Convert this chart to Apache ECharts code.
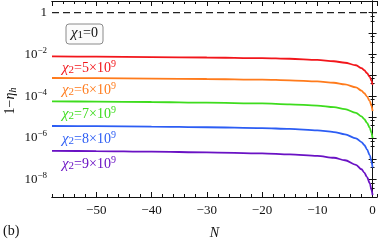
<!DOCTYPE html>
<html><head><meta charset="utf-8">
<script src="https://cdn.jsdelivr.net/npm/echarts@6/dist/echarts.min.js"></script>
<style>html,body{margin:0;padding:0;background:#fff}#c{width:379px;height:245px}</style>
</head><body><div id="c"></div>
<script>
// ---- data ----
const N = [-58, -50, -40, -30, -20, -15, -10, -7, -5, -3, -2, -1.5, -1, -0.5, -0.2, 0];
const chi5 = [7.94e-3, 7.76e-3, 7.41e-3, 7.08e-3, 6.61e-3, 6.17e-3, 5.50e-3, 4.68e-3, 3.98e-3, 3.02e-3, 2.19e-3, 1.74e-3, 1.26e-3, 8.32e-4, 5.50e-4, 3.47e-4];
const chi6 = [7.41e-4, 7.24e-4, 6.92e-4, 6.61e-4, 6.17e-4, 5.75e-4, 5.13e-4, 4.37e-4, 3.63e-4, 2.63e-4, 1.82e-4, 1.38e-4, 9.55e-5, 5.75e-5, 3.47e-5, 1.91e-5];
const chi7 = [5.62e-5, 5.50e-5, 5.25e-5, 4.90e-5, 4.47e-5, 4.07e-5, 3.55e-5, 2.95e-5, 2.40e-5, 1.58e-5, 1.07e-5, 7.94e-6, 5.25e-6, 3.02e-6, 1.74e-6, 9.77e-7];
const chi8 = [3.72e-6, 3.63e-6, 3.47e-6, 3.24e-6, 2.95e-6, 2.69e-6, 2.29e-6, 1.91e-6, 1.48e-6, 9.55e-7, 6.31e-7, 4.57e-7, 2.82e-7, 1.45e-7, 7.59e-8, 3.80e-8];
const chi9 = [2.40e-7, 2.34e-7, 2.19e-7, 2.04e-7, 1.82e-7, 1.62e-7, 1.38e-7, 1.12e-7, 8.51e-8, 5.13e-8, 3.16e-8, 2.19e-8, 1.32e-8, 6.61e-9, 3.31e-9, 1.82e-9];
const refN = [-58, 0.8];
const refY = [1, 1];
const seriesNames = ['5', '6', '7', '8', '9'];
const xRange = [-58, 0.8];
const yRange = [1.48e-9, 3.6];

const colors = ['#f2161b', '#ff7b1c', '#3edc1e', '#2c5df4', '#6a12c4'];
const font = 'Liberation Serif';
const chart = echarts.init(document.getElementById('c'), null, {renderer: 'canvas'});

const pair = (xs, ys) => xs.map((x, i) => [x, ys[i]]);
const allY = [chi5, chi6, chi7, chi8, chi9];

function yFmt(v) {
  const e = Math.round(Math.log10(v));
  if (Math.abs(Math.log10(v) - e) > 1e-6) return '';
  if (e === 0) return '{b|1}';
  if (e % 2 !== 0) return '';
  return '{b|10}{e|' + (e < 0 ? '\u2212' + (-e) : e) + '}';
}
const yRich = {
  b: {fontFamily: font, fontSize: 13, color: '#111'},
  e: {fontFamily: font, fontSize: 9, color: '#111', padding: [0, 0, 8, 0]}
};

const series = allY.map((ys, k) => ({
  type: 'line', data: pair(N, ys), showSymbol: false, smooth: 0.3, smoothMonotone: 'x',
  lineStyle: {color: colors[k], width: 1.8}, xAxisIndex: 0, yAxisIndex: 0, z: 3
}));
series.push({
  type: 'line', data: pair(refN, refY), showSymbol: false,
  lineStyle: {color: '#222', width: 1.2, type: [7, 4]}, xAxisIndex: 0, yAxisIndex: 0, z: 2
});

const labelY = [69, 91.5, 115, 140, 165];
const graphics = seriesNames.map((s, k) => ({
  type: 'text', left: 62, top: labelY[k] - 10,
  style: {
    text: '{i|\u03c7}{s|2}{n|=' + s + '\u00d710}{e|9}',
    rich: {
      i: {fontFamily: font, fontStyle: 'italic', fontSize: 15, fill: colors[k]},
      s: {fontFamily: font, fontSize: 11, fill: colors[k], padding: [4, 0, 0, 0]},
      n: {fontFamily: font, fontSize: 14, fill: colors[k]},
      e: {fontFamily: font, fontSize: 10, fill: colors[k], padding: [0, 0, 8, 0]}
    }
  }
}));
graphics.push({
  type: 'rect', shape: {x: 66, y: 24, width: 37, height: 20, r: 3},
  style: {fill: '#fbfbfb', stroke: '#8a8a8a', lineWidth: 1}, z: 10
});
graphics.push({
  type: 'text', left: 71, top: 26, z: 11,
  style: {
    text: '{i|\u03c7}{s|1}{n|=0}',
    rich: {
      i: {fontFamily: font, fontStyle: 'italic', fontSize: 15, fill: '#111'},
      s: {fontFamily: font, fontSize: 11, fill: '#111', padding: [4, 0, 0, 0]},
      n: {fontFamily: font, fontSize: 14, fill: '#111'}
    }
  }
});
graphics.push({
  type: 'text', x: 3, y: 101, rotation: Math.PI / 2, z: 11,
  style: {
    text: '{n|1\u2212}{i|\u03b7}{s|h}', align: 'center', verticalAlign: 'top',
    rich: {
      n: {fontFamily: font, fontSize: 14, fill: '#111'},
      i: {fontFamily: font, fontStyle: 'italic', fontSize: 14, fill: '#111'},
      s: {fontFamily: font, fontStyle: 'italic', fontSize: 10, fill: '#111', padding: [5, 0, 0, 0]}
    }
  }
});
graphics.push({
  type: 'text', left: 3, top: 224, z: 11,
  style: {text: '(b)', fontFamily: font, fontSize: 14, fill: '#111'}
});

const axisLineStyle = {show: true, lineStyle: {color: '#111', width: 1}};
const common = {type: 'value', min: xRange[0], max: xRange[1], splitLine: {show: false}, axisLine: axisLineStyle};

chart.setOption({
  animation: false,
  grid: {left: 52, right: 2, top: 1, bottom: 43, containLabel: false},
  xAxis: [
    Object.assign({}, common, {
      position: 'bottom', splitNumber: 5,
      axisTick: {show: true, inside: true, length: 5, lineStyle: {color: '#111'}},
      axisLabel: {show: true, showMinLabel: false, showMaxLabel: false, fontFamily: font, fontSize: 13, color: '#111', margin: 7,
        formatter: v => (v < 0 ? '\u2212' + (-v) : '' + v)},
      name: 'N', nameLocation: 'middle', nameGap: 29,
      nameTextStyle: {fontFamily: font, fontStyle: 'italic', fontSize: 14, color: '#111'}
    }),
    Object.assign({}, common, {
      position: 'top', splitNumber: 5,
      axisTick: {show: true, inside: true, length: 5, lineStyle: {color: '#111'}},
      axisLabel: {show: false}
    }),
    Object.assign({}, common, {
      position: 'bottom', interval: 2,
      axisTick: {show: true, inside: true, length: 3, lineStyle: {color: '#111'}},
      axisLabel: {show: false}
    }),
    Object.assign({}, common, {
      position: 'top', interval: 2,
      axisTick: {show: true, inside: true, length: 3, lineStyle: {color: '#111'}},
      axisLabel: {show: false}
    })
  ],
  yAxis: [
    {
      type: 'log', logBase: 10, min: yRange[0], max: yRange[1], position: 'left',
      splitLine: {show: false}, axisLine: axisLineStyle,
      axisTick: {show: true, inside: true, length: 4, lineStyle: {color: '#111'}},
      minorTick: {show: true, splitNumber: 3, length: 2, lineStyle: {color: '#111'}},
      axisLabel: {show: true, showMinLabel: false, showMaxLabel: false, formatter: yFmt, rich: yRich, margin: 5}
    },
    {
      type: 'log', logBase: 10, min: yRange[0], max: yRange[1], position: 'right',
      splitLine: {show: false}, axisLine: axisLineStyle,
      axisTick: {show: true, inside: true, length: 4, lineStyle: {color: '#111'}},
      minorTick: {show: true, splitNumber: 3, length: 2, lineStyle: {color: '#111'}},
      axisLabel: {show: false}
    }
  ],
  series: series,
  graphic: graphics
});
</script>
</body></html>
